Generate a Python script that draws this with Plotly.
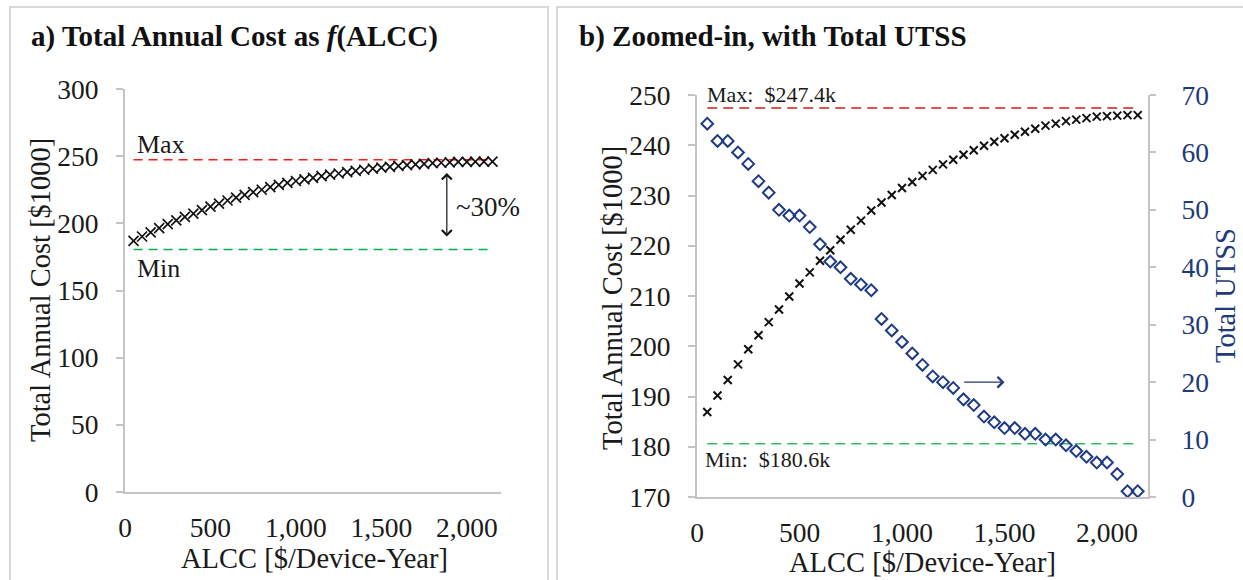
import plotly.graph_objects as go

# ---------------- data ----------------
alcc = [50, 100, 150, 200, 250, 300, 350, 400, 450, 500, 550, 600, 650, 700, 750,
        800, 850, 900, 950, 1000, 1050, 1100, 1150, 1200, 1250, 1300, 1350, 1400,
        1450, 1500, 1550, 1600, 1650, 1700, 1750, 1800, 1850, 1900, 1950, 2000,
        2050, 2100, 2150]
total_cost = [186.9, 190.2, 193.3, 196.4, 199.4, 202.2, 204.8, 207.3, 209.9, 212.5,
              214.7, 217.0, 219.1, 221.2, 223.2, 225.0, 227.0, 228.6, 230.1, 231.5,
              232.7, 233.9, 235.1, 236.2, 237.1, 238.1, 239.0, 239.9, 240.7, 241.4,
              242.1, 242.7, 243.3, 243.9, 244.3, 244.8, 245.1, 245.4, 245.7, 245.8,
              245.9, 246.0, 246.0]
total_utss = [65, 62, 62, 60, 58, 55, 53, 50, 49, 49, 47, 44, 41, 40, 38, 37, 36,
              31, 29, 27, 25, 23, 21, 20, 19, 17, 16, 14, 13, 12, 12, 11, 11, 10,
              10, 9, 8, 7, 6, 6, 4, 1, 1]
ref_x = [50, 2150]
max_cost = 247.4
min_cost = 180.6
left_yticks = [0, 50, 100, 150, 200, 250, 300]
right_yticks = [170, 180, 190, 200, 210, 220, 230, 240, 250]
utss_ticks = [0, 10, 20, 30, 40, 50, 60, 70]
x_ticks = [0, 500, 1000, 1500, 2000]

FONT = "Liberation Serif"
TXT = "#1a1a1a"
NAVY = "#1F3A7A"
AXC = "#C4C4C4"
W, H = 1243, 580

fig = go.Figure()

# ---------- left panel ----------
fig.add_trace(go.Scatter(x=ref_x, y=[max_cost, max_cost], mode="lines",
                         line=dict(color="#FF1A1A", width=1.5, dash="9px,6px"),
                         xaxis="x", yaxis="y", hoverinfo="skip"))
fig.add_trace(go.Scatter(x=ref_x, y=[min_cost, min_cost], mode="lines",
                         line=dict(color="#00B050", width=1.5, dash="9px,6px"),
                         xaxis="x", yaxis="y", hoverinfo="skip"))
fig.add_trace(go.Scatter(x=alcc, y=total_cost, mode="markers",
                         marker=dict(symbol="x-thin", size=10,
                                     line=dict(color="#111111", width=1.7)),
                         xaxis="x", yaxis="y"))

# ---------- right panel ----------
fig.add_trace(go.Scatter(x=ref_x, y=[max_cost, max_cost], mode="lines",
                         line=dict(color="#E05252", width=2, dash="10px,6px"),
                         xaxis="x2", yaxis="y2", hoverinfo="skip"))
fig.add_trace(go.Scatter(x=ref_x, y=[min_cost, min_cost], mode="lines",
                         line=dict(color="#2EBD62", width=1.5, dash="10px,6px"),
                         xaxis="x2", yaxis="y2", hoverinfo="skip"))
fig.add_trace(go.Scatter(x=alcc, y=total_cost, mode="markers",
                         marker=dict(symbol="x-thin", size=8,
                                     line=dict(color="#111111", width=2)),
                         xaxis="x2", yaxis="y2"))
fig.add_trace(go.Scatter(x=alcc, y=total_utss, mode="markers",
                         marker=dict(symbol="diamond-open", size=9,
                                     color="#1F3B85",
                                     line=dict(color="#1F3B85", width=2)),
                         xaxis="x2", yaxis="y3"))

tickfont = dict(family=FONT, size=27.5, color=TXT)
common_x = dict(range=[0, 2200], tickvals=x_ticks, tickformat=",", showline=True,
                linecolor=AXC, linewidth=2, ticks="", showgrid=False,
                zeroline=False, tickfont=tickfont, ticklabelstandoff=10,
                fixedrange=True, automargin=False)
common_y = dict(showline=True, linecolor=AXC, linewidth=2, ticks="outside",
                ticklen=7, tickcolor=AXC, tickwidth=2, showgrid=False,
                zeroline=False, tickfont=tickfont, ticklabelstandoff=12,
                fixedrange=True, automargin=False)

fig.update_layout(
    width=W, height=H, autosize=False,
    margin=dict(l=0, r=0, t=0, b=0, pad=0, autoexpand=False),
    paper_bgcolor="white", plot_bgcolor="white",
    showlegend=False,
    font=dict(family=FONT, color=TXT),
    xaxis=dict(domain=[125 / W, 501 / W], anchor="y", **common_x),
    yaxis=dict(domain=[(H - 492) / H, (H - 89) / H], anchor="x",
               range=[0, 300], tickvals=left_yticks, **common_y),
    xaxis2=dict(domain=[697 / W, 1148 / W], anchor="y2", **common_x),
    yaxis2=dict(domain=[(H - 497) / H, (H - 95) / H], anchor="x2",
                range=[170, 250], tickvals=right_yticks, **common_y),
    yaxis3=dict(overlaying="y2", anchor="x2", side="right",
                range=[0, 70], tickvals=utss_ticks,
                showline=True, linecolor=AXC, linewidth=2, ticks="outside",
                ticklen=6, tickcolor=AXC, tickwidth=2, showgrid=False,
                zeroline=False, tickfont=dict(family=FONT, size=27.5, color=NAVY),
                ticklabelstandoff=20, fixedrange=True, automargin=False),
)

# panel borders
for x0, x1 in [(10, 548), (557, 1250)]:
    fig.add_shape(type="rect", xref="paper", yref="paper",
                  x0=x0 / W, x1=x1 / W, y0=-0.05, y1=(H - 7) / H,
                  line=dict(color="#D9D9D9", width=2), fillcolor="rgba(0,0,0,0)",
                  layer="below")

ann = []
# titles
ann.append(dict(text="<b>a) Total Annual Cost as <i>f</i>(ALCC)</b>", x=29 / W,
                y=(H - 37) / H, xref="paper", yref="paper", xanchor="left",
                yanchor="middle", showarrow=False,
                font=dict(family=FONT, size=29, color="#111111")))
ann.append(dict(text="<b>b) Zoomed-in, with Total UTSS</b>", x=577 / W,
                y=(H - 37) / H, xref="paper", yref="paper", xanchor="left",
                yanchor="middle", showarrow=False,
                font=dict(family=FONT, size=29, color="#111111")))
# axis titles
tf = dict(family=FONT, size=28.5, color=TXT)
ann.append(dict(text="Total Annual Cost [$1000]", x=40 / W, y=(H - 290) / H,
                xref="paper", yref="paper", textangle=-90, showarrow=False,
                xanchor="center", yanchor="middle", font=tf))
ann.append(dict(text="ALCC [$/Device-Year]", x=314 / W, y=(H - 558) / H,
                xref="paper", yref="paper", showarrow=False,
                xanchor="center", yanchor="middle", font=tf))
ann.append(dict(text="Total Annual Cost [$1000]", x=612 / W, y=(H - 298) / H,
                xref="paper", yref="paper", textangle=-90, showarrow=False,
                xanchor="center", yanchor="middle", font=tf))
ann.append(dict(text="ALCC [$/Device-Year]", x=922 / W, y=(H - 562) / H,
                xref="paper", yref="paper", showarrow=False,
                xanchor="center", yanchor="middle", font=tf))
ann.append(dict(text="Total UTSS", x=1225 / W, y=(H - 296) / H,
                xref="paper", yref="paper", textangle=-90, showarrow=False,
                xanchor="center", yanchor="middle",
                font=dict(family=FONT, size=28.5, color=NAVY)))
# left labels
lf = dict(family=FONT, size=26, color=TXT)
ann.append(dict(text="Max", x=60, y=max_cost, xref="x", yref="y",
                xanchor="left", yanchor="bottom", showarrow=False, font=lf,
                yshift=-1))
ann.append(dict(text="Min", x=60, y=min_cost, xref="x", yref="y",
                xanchor="left", yanchor="top", showarrow=False, font=lf,
                yshift=-3))
ann.append(dict(text="~30%", x=1925, y=212, xref="x", yref="y",
                xanchor="left", yanchor="middle", showarrow=False,
                font=dict(family=FONT, size=27, color=TXT)))
ann.append(dict(text="", x=1883, y=237.5, ax=1883, ay=189, xref="x", yref="y",
                axref="x", ayref="y", showarrow=True, arrowside="end+start",
                arrowhead=4, arrowsize=1.6, arrowwidth=1.2, arrowcolor="#111111"))
# right labels
rf = dict(family=FONT, size=22, color=TXT)
ann.append(dict(text="Max:  $247.4k", x=50, y=max_cost, xref="x2", yref="y2",
                xanchor="left", yanchor="bottom", showarrow=False, font=rf,
                xshift=-2, yshift=-1))
ann.append(dict(text="Min:  $180.6k", x=50, y=min_cost, xref="x2", yref="y2",
                xanchor="left", yanchor="top", showarrow=False, font=rf,
                xshift=-4, yshift=-1))
ann.append(dict(text="", x=1500, y=20, ax=1296, ay=20, xref="x2", yref="y3",
                axref="x2", ayref="y3", showarrow=True, arrowhead=4,
                arrowsize=1.6, arrowwidth=1.3, arrowcolor=NAVY))
fig.update_layout(annotations=ann)

fig.write_html("out.html", config={"responsive": False, "displayModeBar": False},
               post_script="document.body.style.margin='0';")
